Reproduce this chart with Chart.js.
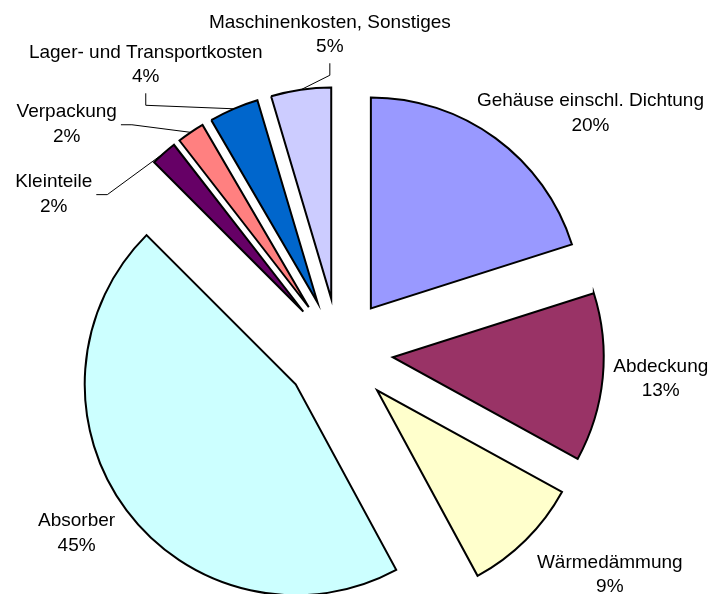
<!DOCTYPE html>
<html>
<head>
<meta charset="utf-8">
<script src="https://cdn.jsdelivr.net/npm/chart.js@4"></script>
<style>
  body { margin: 0; background: #fff; }
</style>
</head>
<body>
<canvas id="cost-chart" width="715" height="594"></canvas>
<script>
const categories = [
    'Gehäuse einschl. Dichtung',
    'Abdeckung',
    'Wärmedämmung',
    'Absorber',
    'Kleinteile',
    'Verpackung',
    'Lager- und Transportkosten',
    'Maschinenkosten, Sonstiges'
];
const values = [20.1, 12.9, 9.1, 45.4, 2.0, 2.1, 3.8, 4.6];
const colors = ['#9999FF', '#993366', '#FFFFCC', '#CCFFFF', '#660066', '#FF8080', '#0066CC', '#CCCCFF'];

// label placement relative to the outer mid point of each slice
const labelShift = [[95, -32], [58, -6], [84, 28], [-50, 16], [-110, 34], [-124, -15], [-88, -51], [29, -62]];
const hasLeader = [false, false, false, false, true, true, true, true];

const explode = 54;
const fontSize = 19;
const lineH = 24.5;

const total = values.reduce((a, b) => a + b, 0);

// draw each slice pulled out from the centre
const explodePlugin = {
    id: 'explode',
    beforeDatasetDraw(chart, args) {
        const ctx = chart.ctx;
        args.meta.data.forEach(arc => {
            const half = (arc.startAngle + arc.endAngle) / 2;
            ctx.save();
            ctx.translate(Math.cos(half) * explode, Math.sin(half) * explode);
            arc.draw(ctx, chart.chartArea);
            ctx.restore();
        });
        return false;
    }
};

const labelPlugin = {
    id: 'sliceLabels',
    afterDatasetsDraw(chart) {
        const ctx = chart.ctx;
        const arcs = chart.getDatasetMeta(0).data;
        ctx.save();
        ctx.font = fontSize + 'px "Liberation Sans", Arial, sans-serif';
        ctx.fillStyle = '#000';
        ctx.strokeStyle = '#000';
        ctx.lineWidth = 1;
        ctx.textAlign = 'center';

        arcs.forEach((arc, i) => {
            const half = (arc.startAngle + arc.endAngle) / 2;
            const dist = explode + arc.outerRadius;
            const px = arc.x + Math.cos(half) * dist;
            const py = arc.y + Math.sin(half) * dist;

            const cx = px + labelShift[i][0];
            const b1 = py + labelShift[i][1];
            const b2 = b1 + lineH;
            const name = categories[i];
            const pct = Math.round(values[i] / total * 100) + '%';

            ctx.fillText(name, cx, b1);
            ctx.fillText(pct, cx, b2);

            if (hasLeader[i]) {
                const w = Math.max(ctx.measureText(name).width, ctx.measureText(pct).width);
                const left = cx - w / 2;
                const right = cx + w / 2;
                const midY = (b1 + b2) / 2 - 0.255 * fontSize;
                let sx, sy, ex, ey;
                if (px >= left && px <= right) {
                    sx = cx; sy = b2 + 11; ex = cx; ey = sy + 12;
                } else if (px > right) {
                    sx = right + 4; sy = midY; ex = sx + 11; ey = sy;
                } else {
                    sx = left - 4; sy = midY; ex = sx - 11; ey = sy;
                }
                ctx.beginPath();
                ctx.moveTo(sx, sy);
                ctx.lineTo(ex, ey);
                ctx.lineTo(px, py);
                ctx.stroke();
            }
        });
        ctx.restore();
    }
};

new Chart(document.getElementById('cost-chart'), {
    type: 'pie',
    data: {
        labels: categories,
        datasets: [{
            data: values,
            backgroundColor: colors,
            borderColor: '#000',
            borderWidth: 2,
            borderJoinStyle: 'miter',
            radius: 211
        }]
    },
    options: {
        responsive: false,
        animation: false,
        layout: {
            padding: { left: 0, right: 37, top: 110, bottom: 0 }
        },
        plugins: {
            legend: { display: false },
            tooltip: { enabled: false }
        }
    },
    plugins: [explodePlugin, labelPlugin]
});
</script>
</body>
</html>
